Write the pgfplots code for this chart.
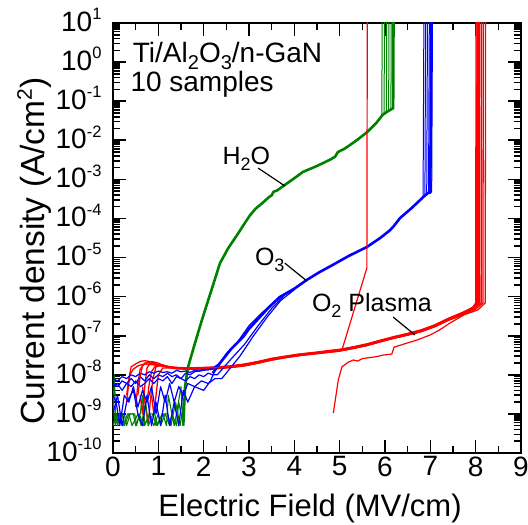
\documentclass[border=0pt]{standalone}
\usepackage{fontspec}
\setmainfont{Liberation Sans}
\usepackage{pgfplots}
\pgfplotsset{compat=1.18}
\definecolor{dgreen}{RGB}{0,128,0}
\newcommand{\sy}[1]{10\raisebox{11.6pt}{\fontsize{16.5}{16.5}\selectfont #1}}
\newcommand{\fs}{\fontsize{28}{32}\selectfont}
\newcommand{\fc}{\fontsize{25}{29}\selectfont}
\newcommand{\subA}[1]{\raisebox{-7pt}{\fontsize{20}{20}\selectfont #1}}
\newcommand{\subB}[1]{\raisebox{-6pt}{\fontsize{18}{18}\selectfont #1}}
\begin{document}
\begin{tikzpicture}
\begin{axis}[
  scale only axis, width=408pt, height=430pt,
  ymode=log, xmin=0, xmax=9, ymin=1e-10, ymax=10,
  axis line style={line width=2.2pt},
  tick align=inside, xtick pos=both, ytick pos=both,
  major tick length=13pt, minor tick length=7pt,
  every tick/.style={black, line width=1.6pt},
  xtick={0,1,2,3,4,5,6,7,8,9}, minor x tick num=1,
  ytick={1e-10,1e-9,1e-8,1e-7,1e-6,1e-5,1e-4,1e-3,1e-2,1e-1,1,10},
  yticklabels={\sy{-10},\sy{-9},\sy{-8},\sy{-7},\sy{-6},\sy{-5},\sy{-4},\sy{-3},\sy{-2},\sy{-1},\sy{0},\sy{1}},
  minor ytick={2e-10,3e-10,4e-10,5e-10,6e-10,7e-10,8e-10,9e-10,
    2e-9,3e-9,4e-9,5e-9,6e-9,7e-9,8e-9,9e-9,
    2e-8,3e-8,4e-8,5e-8,6e-8,7e-8,8e-8,9e-8,
    2e-7,3e-7,4e-7,5e-7,6e-7,7e-7,8e-7,9e-7,
    2e-6,3e-6,4e-6,5e-6,6e-6,7e-6,8e-6,9e-6,
    2e-5,3e-5,4e-5,5e-5,6e-5,7e-5,8e-5,9e-5,
    2e-4,3e-4,4e-4,5e-4,6e-4,7e-4,8e-4,9e-4,
    2e-3,3e-3,4e-3,5e-3,6e-3,7e-3,8e-3,9e-3,
    2e-2,3e-2,4e-2,5e-2,6e-2,7e-2,8e-2,9e-2,
    2e-1,3e-1,4e-1,5e-1,6e-1,7e-1,8e-1,9e-1,
    2,3,4,5,6,7,8,9},
  /pgf/number format/assume math mode=true,
  tick label style={font=\fs},
  yticklabel style={xshift=-8pt, yshift=3pt},
  xlabel={Electric Field (MV/cm)},
  ylabel={Current density (A/cm\raisebox{13pt}{\fontsize{21}{21}\selectfont 2})},
  xlabel style={font=\fontsize{31}{36}\selectfont, at={(axis description cs:0.483,-0.1488)}, anchor=base},
  ylabel style={font=\fontsize{33.5}{38}\selectfont, at={(axis description cs:-0.1667,0.4698)}, anchor=base},
  every axis plot/.append style={line join=round},
]
\coordinate (bbA) at (rel axis cs:0,0);
\coordinate (bbB) at (rel axis cs:1,1);
% ---------- O2 plasma (red), regular samples ----------
\addplot[red, line width=1.3pt] coordinates {(0.3,3e-9)(0.35,8e-9)(0.4,1.6e-8)(0.5,1.9e-8)(0.6,2.2e-8)(0.7,2.3e-8)(0.8,2.2e-8)(0.9,2.0e-8)(1.0,1.8e-8)(1.2,1.6e-8)(1.4,1.5e-8)(1.7,1.45e-8)(2.0,1.48e-8)(2.3,1.51e-8)(2.6,1.62e-8)(2.9,1.78e-8)(3.2,2.09e-8)(3.5,2.51e-8)(3.8,2.88e-8)(4.1,3.24e-8)(4.4,3.55e-8)(4.7,3.89e-8)(5.0,4.27e-8)(5.3,5.0e-8)(5.6,5.9e-8)(5.9,7.4e-8)(6.2,9.1e-8)(6.5,1.1e-7)(6.8,1.35e-7)(7.1,1.82e-7)(7.4,2.7e-7)(7.7,3.8e-7)(7.94,5.4e-7)(8.0,6.9e-7)(8.01,50)};
\addplot[red, line width=1.3pt] coordinates {(0.5,1.5e-9)(0.55,6e-9)(0.6,1.4e-8)(0.7,2.0e-8)(0.85,2.1e-8)(1.0,1.8e-8)(1.2,1.65e-8)(1.4,1.55e-8)(1.7,1.5e-8)(2.0,1.55e-8)(2.3,1.6e-8)(2.6,1.7e-8)(2.9,1.9e-8)(3.2,2.2e-8)(3.5,2.65e-8)(3.8,3.0e-8)(4.1,3.4e-8)(4.4,3.7e-8)(4.7,4.1e-8)(5.0,4.5e-8)(5.3,5.2e-8)(5.6,6.2e-8)(5.9,7.7e-8)(6.2,9.5e-8)(6.5,1.15e-7)(6.8,1.42e-7)(7.1,1.9e-7)(7.4,2.8e-7)(7.7,3.9e-7)(7.94,5.2e-7)(8.08,6.9e-7)(8.09,50)};
\addplot[red, line width=1.3pt] coordinates {(0.6,3e-9)(0.65,1e-9)(0.7,5e-9)(0.75,1.5e-8)(0.85,2.2e-8)(1.0,2.0e-8)(1.2,1.55e-8)(1.4,1.42e-8)(1.7,1.38e-8)(2.0,1.42e-8)(2.3,1.45e-8)(2.6,1.55e-8)(2.9,1.7e-8)(3.2,1.98e-8)(3.5,2.38e-8)(3.8,2.75e-8)(4.1,3.1e-8)(4.4,3.4e-8)(4.7,3.7e-8)(5.0,4.05e-8)(5.3,4.7e-8)(5.6,5.6e-8)(5.9,7.0e-8)(6.2,8.6e-8)(6.5,1.03e-7)(6.8,1.27e-7)(7.1,1.7e-7)(7.4,2.5e-7)(7.7,3.4e-7)(8.0,4.8e-7)(8.16,6.9e-7)(8.17,50)};
\addplot[red, line width=1.3pt] coordinates {(0.65,5e-9)(0.72,1.5e-9)(0.78,5e-10)(0.82,2e-9)(0.88,8e-9)(0.95,1.6e-8)(1.1,1.8e-8)(1.3,1.5e-8)(1.5,1.45e-8)(1.7,1.42e-8)(2.0,1.45e-8)(2.3,1.48e-8)(2.6,1.58e-8)(2.9,1.74e-8)(3.2,2.03e-8)(3.5,2.45e-8)(3.8,2.8e-8)(4.1,3.15e-8)(4.4,3.45e-8)(4.7,3.8e-8)(5.0,4.15e-8)(5.3,4.85e-8)(5.6,5.75e-8)(5.9,7.2e-8)(6.2,8.8e-8)(6.5,1.06e-7)(6.8,1.3e-7)(7.1,1.72e-7)(7.4,2.5e-7)(7.7,3.3e-7)(8.05,4.6e-7)(8.21,6.9e-7)(8.22,50)};
\addplot[red, line width=1.3pt] coordinates {(0.75,2e-9)(0.8,6e-9)(0.85,1.2e-8)(0.95,1.8e-8)(1.1,1.7e-8)(1.3,1.55e-8)(1.6,1.5e-8)(2.0,1.52e-8)(2.3,1.56e-8)(2.6,1.67e-8)(2.9,1.83e-8)(3.2,2.15e-8)(3.5,2.58e-8)(3.8,2.97e-8)(4.1,3.34e-8)(4.4,3.66e-8)(4.7,4.0e-8)(5.0,4.4e-8)(5.3,5.15e-8)(5.6,6.1e-8)(5.9,7.6e-8)(6.2,9.4e-8)(6.5,1.13e-7)(6.8,1.39e-7)(7.1,1.87e-7)(7.4,2.75e-7)(7.7,3.85e-7)(7.94,5.3e-7)(8.04,6.9e-7)(8.05,50)};
\addplot[red, line width=1.3pt] coordinates {(0.3,2e-9)(0.33,4e-9)(0.37,1.0e-8)(0.45,1.4e-8)(0.55,1.7e-8)(0.7,1.9e-8)(0.9,1.8e-8)(1.1,1.65e-8)(1.4,1.5e-8)(1.7,1.44e-8)(2.0,1.46e-8)(2.3,1.5e-8)(2.6,1.6e-8)(2.9,1.76e-8)(3.2,2.06e-8)(3.5,2.48e-8)(3.8,2.85e-8)(4.1,3.2e-8)(4.4,3.5e-8)(4.7,3.85e-8)(5.0,4.2e-8)(5.3,4.9e-8)(5.6,5.8e-8)(5.9,7.3e-8)(6.2,9.0e-8)(6.5,1.08e-7)(6.8,1.33e-7)(7.1,1.78e-7)(7.4,2.6e-7)(7.7,3.6e-7)(7.97,5.0e-7)(8.12,6.9e-7)(8.13,50)};
\addplot[red, line width=1.3pt] coordinates {(0.85,3e-9)(0.9,1e-9)(0.95,3e-9)(1.0,1e-8)(1.1,1.5e-8)(1.3,1.5e-8)(1.6,1.4e-8)(2.0,1.4e-8)(2.3,1.43e-8)(2.6,1.54e-8)(2.9,1.69e-8)(3.2,1.99e-8)(3.5,2.38e-8)(3.8,2.74e-8)(4.1,3.08e-8)(4.4,3.37e-8)(4.7,3.7e-8)(5.0,4.06e-8)(5.3,4.75e-8)(5.6,5.6e-8)(5.9,7.0e-8)(6.2,8.65e-8)(6.5,1.05e-7)(6.8,1.28e-7)(7.1,1.73e-7)(7.4,2.56e-7)(7.7,3.6e-7)(7.94,5.1e-7)(8.02,6.9e-7)(8.03,50)};
% ---------- H2O (green) ----------
\addplot[dgreen, line width=1.1pt] coordinates {(0,1e-9)(0.03,1e-8)(0.06,1e-9)(0.1,5e-10)(0.15,1e-9)(0.25,1e-9)(0.3,5e-10)(0.38,1e-9)(0.45,1e-9)(0.5,5e-10)(0.6,1e-9)(0.65,3e-9)(0.7,5e-10)(0.8,1e-9)(0.9,5e-10)(1.0,1e-9)(1.05,5e-10)(1.15,1e-9)(1.25,5e-10)(1.3,1e-9)(1.4,5e-10)(1.45,2e-9)(1.55,5e-10)};
\addplot[dgreen, line width=1.1pt] coordinates {(0,5e-10)(0.08,1e-9)(0.2,1e-9)(0.25,5e-10)(0.35,1e-9)(0.42,5e-10)(0.55,1e-9)(0.62,5e-10)(0.72,2e-9)(0.78,5e-10)(0.88,1e-9)(0.95,5e-10)(1.1,1e-9)(1.18,5e-10)(1.22,3e-9)(1.35,5e-10)(1.4,1e-9)(1.5,5e-9)(1.55,5e-10)};
\addplot[dgreen, line width=1.1pt] coordinates {(0,2e-9)(0.05,5e-10)(0.12,1e-9)(0.22,5e-10)(0.32,1e-9)(0.48,1e-9)(0.52,5e-10)(0.58,1e-9)(0.68,5e-10)(0.82,1e-9)(0.92,1e-9)(0.98,5e-10)(1.08,1e-9)(1.2,1e-9)(1.28,5e-10)(1.38,2e-9)(1.48,5e-10)(1.52,1e-9)(1.6,3e-9)};
\addplot[dgreen, line width=2.6pt] coordinates {(1.55,5e-10)(1.59,5e-9)(1.65,1.5e-8)(1.8,6e-8)(1.96,2.5e-7)(2.1,8.1e-7)(2.23,2.4e-6)(2.36,7.2e-6)(2.55,1.8e-5)(2.77,4.3e-5)(2.9,7.4e-5)(3.02,1.2e-4)(3.15,1.8e-4)(3.3,2.5e-4)(3.45,3.6e-4)(3.5,3.9e-4)(3.54,4.8e-4)(3.62,5.2e-4)(3.79,7.2e-4)(4.0,1.07e-3)(4.19,1.55e-3)(4.5,2.2e-3)(4.79,3.2e-3)(4.9,3.8e-3)(4.96,5e-3)(5.1,6e-3)(5.23,7.6e-3)(5.4,1.05e-2)(5.6,1.6e-2)(5.8,2.7e-2)(5.95,4.5e-2)(6.05,5.4e-2)(6.18,6.6e-2)(6.19,50)};
\addplot[dgreen, line width=1pt] coordinates {(5.93,4.2e-2)(5.94,50)};
\addplot[dgreen, line width=1pt] coordinates {(5.98,4.7e-2)(5.99,50)};
\addplot[dgreen, line width=1pt] coordinates {(6.03,5.2e-2)(6.04,50)};
\addplot[dgreen, line width=1pt] coordinates {(6.08,5.7e-2)(6.09,50)};
\addplot[dgreen, line width=1pt] coordinates {(6.13,6.1e-2)(6.14,50)};
% ---------- O3 (blue) ----------
\addplot[blue, line width=1.2pt] coordinates {(0,8e-9)(0.1,7e-9)(0.2,9e-9)(0.3,8e-9)(0.4,1.0e-8)(0.5,9e-9)(0.6,1.1e-8)(0.7,1.0e-8)(0.8,1.2e-8)(0.9,1.1e-8)(1.0,1.25e-8)(1.1,1.15e-8)(1.2,1.2e-8)(1.3,1.1e-8)(1.4,1.3e-8)(1.5,1.2e-8)(1.6,1.25e-8)(1.7,1.15e-8)(1.8,1.3e-8)(1.9,1.25e-8)(2.0,1.4e-8)(2.1,1.35e-8)(2.2,1.5e-8)(2.36,2.0e-8)};
\addplot[blue, line width=1.2pt] coordinates {(0,5e-9)(0.1,6e-9)(0.2,4e-9)(0.3,6e-9)(0.4,5e-9)(0.5,7e-9)(0.6,5e-9)(0.7,6e-9)(0.8,8e-9)(0.9,6e-9)(1.0,8e-9)(1.1,7e-9)(1.2,9e-9)(1.3,6e-9)(1.4,9e-9)(1.5,8e-9)(1.6,7e-9)(1.7,9e-9)(1.8,8e-9)(1.9,1.0e-8)(2.0,9e-9)(2.1,1.1e-8)(2.2,1.0e-8)(2.3,1.0e-8)(2.6,2.5e-8)(2.9,6e-8)(3.2,1.8e-7)(3.5,5e-7)(3.8,1.15e-6)(4.0,1.6e-6)};
\addplot[blue, line width=1.2pt] coordinates {(0,3e-9)(0.07,2e-9)(0.15,5e-10)(0.25,3e-9)(0.35,2e-9)(0.45,5e-9)(0.55,1.5e-9)(0.65,4e-9)(0.75,2e-9)(0.85,5e-9)(0.95,1e-9)(1.05,5e-9)(1.15,2e-9)(1.25,6e-9)(1.35,2e-9)(1.45,5e-9)(1.55,3e-9)(1.65,6e-9)(1.8,5e-9)(1.95,7e-9)(2.1,6e-9)(2.25,8e-9)(2.4,8e-9)(2.8,3e-8)(3.1,1e-7)(3.4,3e-7)(3.7,8e-7)(4.0,1.5e-6)};
\addplot[blue, line width=1.2pt] coordinates {(0,1e-9)(0.1,3e-9)(0.2,5e-10)(0.3,2e-9)(0.45,4e-9)(0.55,1e-9)(0.65,5e-10)(0.75,3e-9)(0.85,5e-10)(0.95,2e-9)(1.05,5e-10)(1.15,3e-9)(1.25,5e-10)(1.35,2e-9)(1.45,5e-10)(1.55,4e-9)(1.65,2e-9)(1.8,5e-9)(2.0,4e-9)(2.15,7e-9)(2.25,1.3e-8)(2.5,3.5e-8)(2.75,7e-8)(3.0,1.8e-7)(3.3,4e-7)(3.68,9.8e-7)};
\addplot[blue, line width=1.2pt] coordinates {(0,6e-9)(0.1,5e-9)(0.2,7e-9)(0.3,6e-9)(0.4,8e-9)(0.5,6e-9)(0.6,9e-9)(0.7,7e-9)(0.8,1.0e-8)(0.9,8e-9)(1.0,1.0e-8)(1.1,9e-9)(1.2,1.1e-8)(1.3,9e-9)(1.4,1.0e-8)(1.5,8e-9)(1.6,1.1e-8)(1.7,1e-8)(1.8,1.2e-8)(2.0,1.3e-8)(2.2,1.4e-8)(2.36,2.0e-8)};
\addplot[blue, line width=2.6pt] coordinates {(2.2,1.1e-8)(2.36,2.0e-8)(2.6,4.5e-8)(2.87,9.3e-8)(3.0,1.5e-7)(3.24,3.0e-7)(3.45,5.5e-7)(3.68,9.8e-7)(4.0,1.6e-6)(4.28,2.7e-6)(4.55,4.2e-6)(4.85,6.5e-6)(5.2,1.1e-5)(5.6,1.86e-5)(5.9,3.2e-5)(6.11,5e-5)(6.2,6.5e-5)(6.33,1.02e-4)(6.6,1.9e-4)(6.84,3.5e-4)(6.95,4.5e-4)(7.0,4.6e-4)(7.02,50)};
\addplot[blue, line width=1pt] coordinates {(6.84,3.5e-4)(6.86,50)};
\addplot[blue, line width=1pt] coordinates {(6.88,3.9e-4)(6.90,50)};
\addplot[blue, line width=1pt] coordinates {(6.92,4.3e-4)(6.94,50)};
\addplot[blue, line width=1pt] coordinates {(6.96,4.5e-4)(6.98,50)};
\addplot[blue, line width=1pt] coordinates {(7.03,4.6e-4)(7.05,50)};
% ---------- O2 plasma special samples ----------
\addplot[red, line width=1.2pt] coordinates {(0.55,3e-9)(0.6,9e-9)(0.65,1.7e-8)(0.75,2.1e-8)(0.9,1.9e-8)(1.1,1.7e-8)(1.4,1.5e-8)(1.7,1.46e-8)(2.0,1.5e-8)(2.3,1.53e-8)(2.6,1.64e-8)(2.9,1.8e-8)(3.2,2.1e-8)(3.5,2.52e-8)(3.8,2.9e-8)(4.1,3.26e-8)(4.4,3.57e-8)(4.7,3.9e-8)(5.05,4.3e-8)(5.6,5.4e-6)(5.61,50)};
\addplot[red, line width=1.2pt] coordinates {(4.86,1.05e-9)(4.97,7.4e-9)(5.05,1.6e-8)(5.19,2.1e-8)(5.3,2.4e-8)(5.4,2.25e-8)(5.5,2.6e-8)(5.6,2.7e-8)(5.8,2.9e-8)(5.96,3.2e-8)(6.15,3.4e-8)(6.2,5.1e-8)(6.45,6.3e-8)(6.71,7.8e-8)(7.0,1.05e-7)(7.2,1.4e-7)(7.43,2.1e-7)(7.7,3.2e-7)(7.9,4.5e-7)(8.06,6.9e-7)(8.07,50)};
% ---------- annotations ----------
\draw[black, line width=1.2pt] (axis cs:3.20,1.95e-3) -- (axis cs:3.79,6.8e-4);
\draw[black, line width=1.2pt] (axis cs:3.79,7.2e-6) -- (axis cs:4.28,2.5e-6);
\draw[black, line width=1.2pt] (axis cs:6.18,3.0e-7) -- (axis cs:6.66,1.05e-7);
\node[anchor=base west, inner sep=0pt, font=\fc] at (axis cs:2.413,2.45e-3) {H\subB{2}O};
\node[anchor=base west, inner sep=0pt, font=\fc] at (axis cs:3.128,6.1e-6) {O\subB{3}};
\node[anchor=base west, inner sep=0pt, font=\fc] at (axis cs:4.386,4.05e-7) {O\subB{2} Plasma};
\node[anchor=base west, inner sep=0pt, font=\fs] at (axis cs:0.435,0.948) {Ti/Al\subA{2}O\subA{3}/n-GaN};
\node[anchor=base west, inner sep=0pt, font=\fs] at (axis cs:0.382,0.172) {10 samples};
\end{axis}
\pgfresetboundingbox
\useasboundingbox ([shift={(-113pt,-71pt)}]bbA) rectangle ([shift={(7pt,23pt)}]bbB);
\end{tikzpicture}
\end{document}
